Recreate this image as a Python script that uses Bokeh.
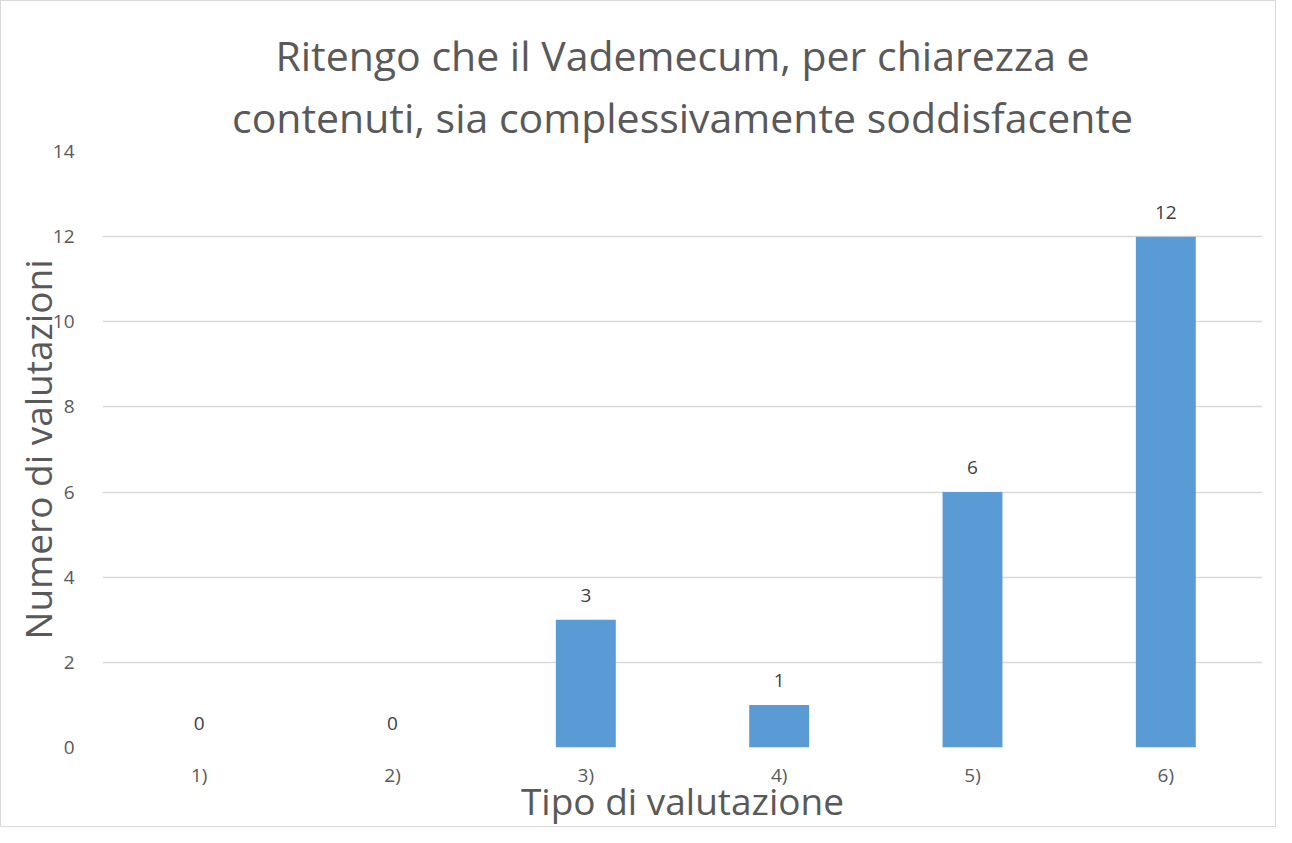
from bokeh.plotting import figure
from bokeh.models import ColumnDataSource, LabelSet, FactorRange, Range1d, FixedTicker, Title
from bokeh.core.properties import value
from bokeh.embed import file_html
from bokeh.resources import INLINE

categories = ["1)", "2)", "3)", "4)", "5)", "6)"]
values = [0, 0, 3, 1, 6, 12]
labels = [str(v) for v in values]
title_lines = ["Ritengo che il Vademecum, per chiarezza e",
               "contenuti, sia complessivamente soddisfacente"]
x_label = "Tipo di valutazione"
y_label = "Numero di valutazioni"

source = ColumnDataSource(data=dict(cat=categories, val=values, lab=labels))

FONT = "Open Sans"
GRAY = "#595959"

p = figure(
    x_range=FactorRange(*categories, range_padding=0),
    y_range=Range1d(0, 14),
    width=1276, height=827,
    output_backend="svg", toolbar_location=None,
    min_border_left=101, min_border_right=15, min_border_top=150, min_border_bottom=72,
)
p.styles = {"border": "1px solid #d9d9d9", "box-sizing": "border-box"}

p.vbar(x="cat", top="val", width=0.31, source=source, color="#5b9bd5", line_color=None)

lbls = LabelSet(x="cat", y="val", text="lab", source=source, y_offset=18,
                text_align="center", text_baseline="bottom", text_font=value(FONT),
                text_font_size="19px", text_color="#404040")
p.add_layout(lbls)

# two-line title: first line is the outer title, second line sits nearest the frame
p.title.text = title_lines[0]
p.title.align = "center"
p.title.text_font = FONT
p.title.text_font_size = "41px"
p.title.text_font_style = "normal"
p.title.text_color = GRAY
p.title.standoff = -6

t2 = Title(text=title_lines[1], align="center", text_font=FONT, text_font_size="41px",
           text_font_style="normal", text_color=GRAY, standoff=14)
p.add_layout(t2, "above")

p.outline_line_color = None
p.xgrid.grid_line_color = None
p.ygrid.grid_line_color = "#d9d9d9"
p.ygrid.grid_line_width = 1.3

p.yaxis.ticker = FixedTicker(ticks=[0, 2, 4, 6, 8, 10, 12, 14])
for ax in (p.xaxis, p.yaxis):
    ax.axis_line_color = None
    ax.major_tick_line_color = None
    ax.minor_tick_line_color = None
    ax.major_label_text_font = FONT
    ax.major_label_text_font_size = "19px"
    ax.major_label_text_color = GRAY
    ax.axis_label_text_font = FONT
    ax.axis_label_text_font_style = "normal"
    ax.axis_label_text_color = GRAY
    ax.axis_label_text_font_size = "37px"

p.xaxis.axis_label = x_label
p.yaxis.axis_label = y_label
p.xaxis.major_label_standoff = 8
p.xaxis.axis_label_standoff = -16
p.yaxis.major_label_standoff = 22
p.yaxis.axis_label_standoff = -13

open("out.html", "w").write(file_html(p, INLINE))
